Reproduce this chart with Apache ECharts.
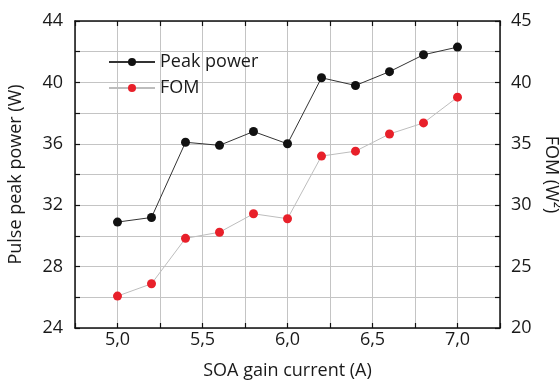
<!DOCTYPE html>
<html>
<head>
<meta charset="utf-8">
<script src="https://cdn.jsdelivr.net/npm/echarts@6/dist/echarts.min.js"></script>
<style>
  html, body { margin: 0; padding: 0; background: #fff; }
  #chart { width: 560px; height: 383px; }
</style>
</head>
<body>
<div id="chart"></div>
<script>
// SOA gain current (A)
const current = [5.0, 5.2, 5.4, 5.6, 5.8, 6.0, 6.2, 6.4, 6.6, 6.8, 7.0];
// Pulse peak power (W), left axis
const peakPower = [30.9, 31.2, 36.1, 35.9, 36.8, 36.0, 40.3, 39.8, 40.7, 41.8, 42.3];
// FOM (W^2), right axis
const fom = [22.6, 23.6, 27.3, 27.8, 29.3, 28.9, 34.0, 34.4, 35.8, 36.7, 38.8];

const FONT = '"Open Sans", "Noto Sans", sans-serif';
const TEXT = '#1a1a1a';

const pair = (xs, ys) => xs.map((x, i) => [x, ys[i]]);
const comma = (v, digits) => v.toFixed(digits).replace('.', ',');

const chart = echarts.init(document.getElementById('chart'));

// light solid grid (dashed ones did not show up in the screenshot)
const gridLine = { show: true, lineStyle: { color: '#c4c4c4', type: 'solid', width: 1 } };
const axisLine = { show: true, lineStyle: { color: '#111', width: 1.5 } };
const ticksIn = { show: true, inside: true, length: 5, lineStyle: { color: '#111', width: 1.2 } };

chart.setOption({
    animation: false,
    textStyle: { fontFamily: FONT },
    grid: { left: 75, right: 60, top: 21, bottom: 55, outerBoundsMode: 'none' },
    legend: {
        orient: 'vertical',
        left: 103,
        top: 48,
        itemWidth: 46,
        itemHeight: 10,
        itemGap: 8,
        textStyle: { fontFamily: FONT, fontSize: 18, color: TEXT },
        data: ['Peak power', 'FOM']
    },
    xAxis: [{
        type: 'value',
        min: 4.75, max: 7.25, interval: 0.25,
        name: 'SOA gain current (A)',
        nameLocation: 'middle',
        nameGap: 34,
        nameTextStyle: { fontFamily: FONT, fontSize: 18, color: TEXT },
        axisLine: axisLine,
        axisTick: ticksIn,
        splitLine: gridLine,
        axisLabel: {
            fontFamily: FONT, fontSize: 18, color: TEXT, margin: 3,
            formatter: v => (Math.abs(v * 2 - Math.round(v * 2)) < 1e-6 ? comma(v, 1) : '')
        }
    }, {
        type: 'value',
        position: 'top',
        min: 4.75, max: 7.25, interval: 0.25,
        axisLine: axisLine,
        axisTick: ticksIn,
        axisLabel: { show: false },
        splitLine: { show: false }
    }],
    yAxis: [{
        type: 'value',
        min: 24, max: 44, interval: 2,
        name: 'Pulse peak power (W)',
        nameLocation: 'middle',
        nameGap: 50,
        nameTextStyle: { fontFamily: FONT, fontSize: 18, color: TEXT },
        axisLine: axisLine,
        axisTick: ticksIn,
        splitLine: gridLine,
        axisLabel: {
            fontFamily: FONT, fontSize: 18, color: TEXT, margin: 12,
            formatter: v => (v % 4 === 0 ? String(v) : '')
        }
    }, {
        type: 'value',
        min: 20, max: 45, interval: 2.5,
        position: 'right',
        name: 'FOM (W²)',
        nameLocation: 'middle',
        nameRotate: -90,
        nameGap: 36,
        nameTextStyle: { fontFamily: FONT, fontSize: 18, color: TEXT },
        axisLine: axisLine,
        axisTick: ticksIn,
        splitLine: { show: false },
        axisLabel: {
            fontFamily: FONT, fontSize: 18, color: TEXT, margin: 11,
            formatter: v => (v % 5 === 0 ? String(v) : '')
        }
    }],
    series: [{
        name: 'Peak power',
        type: 'line',
        xAxisIndex: 0,
        yAxisIndex: 0,
        data: pair(current, peakPower),
        symbol: 'circle',
        symbolSize: 9,
        itemStyle: { color: '#111' },
        lineStyle: { color: '#333', width: 1 },
        z: 3
    }, {
        name: 'FOM',
        type: 'line',
        xAxisIndex: 0,
        yAxisIndex: 1,
        data: pair(current, fom),
        symbol: 'circle',
        symbolSize: 9,
        itemStyle: { color: '#e8202a' },
        lineStyle: { color: '#bdbdbd', width: 1 },
        z: 2
    }]
});
</script>
</body>
</html>
